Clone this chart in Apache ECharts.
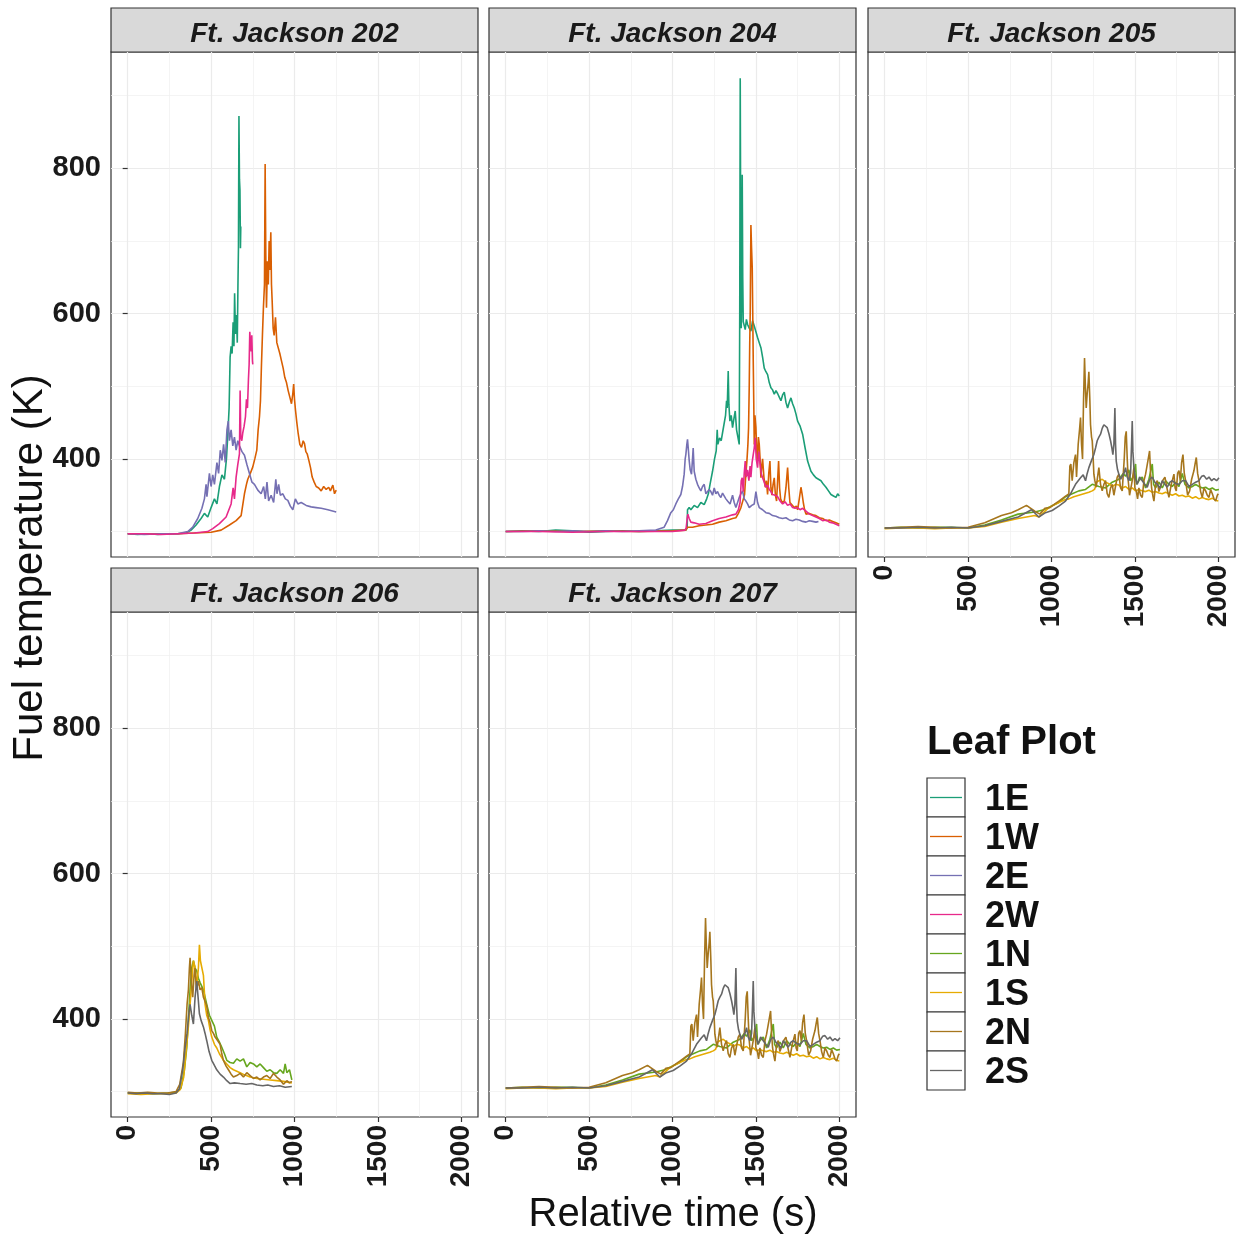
<!DOCTYPE html>
<html>
<head>
<meta charset="utf-8">
<title>Fuel temperature</title>
<script src="https://cdn.jsdelivr.net/npm/echarts@6/dist/echarts.min.js"></script>
<style>
  html, body { margin: 0; padding: 0; background: #fff; }
  #chart { width: 1236px; height: 1237px; }
</style>
</head>
<body>
<div id="chart"></div>
<script>
// leaf plots and their colours (Dark2)
var leafPlots = ['1E', '1W', '2E', '2W', '1N', '1S', '2N', '2S'];
var leafColors = ['#1B9E77', '#D95F02', '#7570B3', '#E7298A', '#66A61E', '#E6AB02', '#A6761D', '#666666'];
var facetNames = ['Ft. Jackson 202', 'Ft. Jackson 204', 'Ft. Jackson 205', 'Ft. Jackson 206', 'Ft. Jackson 207'];
var yTicks = [400, 600, 800];
var xTicks = [0, 500, 1000, 1500, 2000];

// [relative time (s), fuel temperature (K)]
var fj202_1E = [[0,297],[60,296],[120,297],[180,296],[240,297],[300,297],[350,298],[380,302],[410,309],[440,318],[460,325],[480,320],[500,333],[520,345],[535,338],[550,362],[565,378],[580,372],[592,400],[600,432],[608,470],[614,540],[620,555],[626,545],[632,588],[637,555],[641,628],[646,572],[652,598],[657,560],[661,640],[664,690],[667,872],[670,785],[673,770],[676,690],[678,720]];
var fj202_1W = [[0,297],[100,297],[200,297],[300,297],[400,298],[500,299],[560,302],[610,309],[650,315],[680,322],[700,352],[712,365],[720,372],[735,380],[750,389],[762,400],[774,412],[782,440],[790,458],[796,480],[802,530],[808,572],[814,610],[820,640],[824,806],[828,680],[832,608],[838,672],[843,640],[848,700],[852,660],[858,712],[862,640],[866,618],[872,580],[878,570],[886,595],[894,560],[902,558],[912,545],[922,535],[932,525],[942,512],[952,505],[962,494],[972,485],[982,476],[990,490],[995,503],[1000,482],[1006,467],[1014,450],[1022,435],[1032,420],[1042,416],[1052,425],[1060,421],[1068,410],[1076,407],[1086,398],[1096,388],[1106,375],[1118,368],[1130,362],[1145,360],[1160,356],[1175,362],[1190,358],[1205,361],[1215,356],[1230,364],[1240,352],[1250,357]];
var fj202_2E = [[0,297],[100,296],[200,297],[300,297],[360,300],[390,306],[420,318],[445,332],[460,345],[470,365],[475,348],[490,380],[500,362],[510,378],[520,365],[535,395],[545,380],[555,412],[565,398],[575,420],[585,395],[595,440],[603,452],[610,425],[620,440],[630,418],[640,430],[650,412],[660,425],[670,418],[685,410],[700,405],[715,392],[730,380],[745,368],[760,365],[780,357],[800,352],[815,362],[825,345],[835,368],[845,342],[860,350],[875,340],[888,372],[895,352],[905,365],[915,350],[930,352],[945,345],[960,343],[975,335],[990,330],[1005,345],[1020,338],[1040,340],[1070,336],[1100,334],[1130,333],[1160,332],[1200,330],[1250,327]];
var fj202_2W = [[0,297],[100,297],[200,296],[300,297],[400,298],[480,300],[510,304],[550,311],[590,320],[620,338],[632,360],[640,345],[650,375],[660,392],[670,407],[674,494],[678,430],[684,425],[690,436],[698,445],[706,458],[712,482],[718,470],[724,510],[728,530],[732,575],[736,560],[740,548],[744,570],[748,535],[750,530]];

var fj204_1E = [[0,300],[100,301],[200,300],[300,302],[400,301],[500,299],[600,300],[700,301],[800,300],[900,301],[1000,302],[1080,302],[1088,305],[1090,330],[1100,333],[1110,330],[1130,336],[1150,333],[1170,340],[1190,337],[1205,345],[1215,352],[1225,365],[1240,383],[1252,400],[1262,411],[1268,440],[1272,420],[1282,429],[1292,425],[1300,436],[1310,438],[1318,460],[1324,480],[1328,470],[1334,521],[1338,475],[1344,452],[1352,460],[1360,443],[1368,455],[1376,466],[1384,440],[1392,430],[1400,420],[1403,600],[1406,924],[1409,700],[1412,580],[1415,620],[1418,791],[1421,650],[1424,589],[1430,590],[1436,578],[1443,592],[1450,585],[1460,580],[1470,576],[1480,590],[1490,583],[1500,575],[1510,567],[1520,560],[1530,553],[1540,540],[1550,525],[1560,520],[1570,516],[1580,505],[1590,498],[1600,495],[1610,489],[1620,494],[1630,490],[1640,485],[1650,480],[1660,488],[1670,492],[1680,478],[1690,470],[1700,478],[1710,484],[1720,476],[1730,470],[1740,462],[1750,452],[1765,445],[1780,434],[1795,415],[1810,397],[1820,390],[1830,383],[1845,378],[1860,374],[1875,372],[1890,370],[1905,365],[1920,361],[1935,356],[1950,351],[1965,349],[1980,347],[1990,352],[2000,349]];
var fj204_1W = [[0,300],[200,301],[400,300],[600,301],[800,300],[1000,301],[1080,302],[1090,306],[1120,306],[1160,308],[1200,309],[1240,310],[1280,313],[1320,315],[1360,318],[1380,319],[1395,325],[1410,333],[1425,345],[1432,351],[1440,380],[1446,397],[1452,420],[1456,443],[1460,500],[1463,560],[1466,603],[1470,722],[1474,690],[1478,663],[1481,600],[1484,535],[1487,480],[1490,420],[1494,460],[1500,443],[1505,410],[1510,397],[1515,430],[1520,420],[1525,400],[1530,374],[1535,390],[1540,400],[1548,375],[1556,361],[1563,370],[1570,351],[1577,380],[1584,397],[1590,360],[1596,350],[1603,365],[1610,374],[1617,350],[1624,342],[1630,370],[1636,397],[1642,360],[1648,345],[1658,340],[1670,342],[1680,360],[1690,388],[1697,360],[1704,340],[1715,338],[1730,333],[1742,335],[1750,330],[1760,345],[1770,361],[1778,350],[1784,340],[1792,330],[1800,324],[1820,325],[1840,323],[1860,322],[1880,319],[1900,318],[1920,315],[1940,316],[1960,314],[1980,312],[2000,310]];
var fj204_2E = [[0,300],[100,300],[200,301],[300,300],[400,301],[500,300],[600,301],[700,300],[800,301],[900,302],[950,306],[970,315],[990,326],[1005,330],[1020,338],[1035,345],[1050,351],[1060,362],[1070,379],[1076,400],[1080,406],[1086,420],[1090,427],[1096,410],[1100,398],[1106,385],[1114,379],[1120,400],[1124,415],[1130,383],[1140,372],[1150,365],[1160,360],[1170,356],[1180,362],[1190,365],[1200,352],[1210,351],[1220,358],[1230,355],[1240,350],[1250,360],[1260,352],[1270,355],[1280,350],[1290,347],[1300,353],[1310,351],[1320,345],[1330,342],[1345,338],[1360,350],[1370,340],[1380,333],[1390,340],[1400,347],[1410,352],[1420,356],[1430,345],[1440,342],[1450,338],[1460,333],[1475,336],[1490,338],[1500,355],[1510,340],[1520,333],[1540,330],[1560,326],[1580,325],[1600,322],[1620,321],[1640,319],[1660,318],[1680,319],[1700,316],[1720,315],[1740,317],[1760,316],[1780,314],[1800,313],[1820,315],[1840,314],[1860,313],[1875,314]];
var fj204_2W = [[0,300],[200,300],[400,299],[600,300],[800,300],[1000,300],[1075,302],[1082,305],[1088,318],[1092,324],[1100,318],[1110,313],[1130,312],[1160,310],[1200,311],[1240,315],[1280,318],[1320,320],[1360,323],[1380,324],[1395,330],[1405,340],[1412,370],[1418,374],[1424,355],[1430,380],[1436,397],[1442,375],[1450,385],[1458,370],[1465,390],[1470,375],[1477,395],[1484,406],[1490,415],[1496,429],[1502,400],[1510,388],[1517,410],[1524,395],[1532,380],[1540,374],[1550,368],[1560,361],[1570,364],[1580,358],[1590,355],[1600,351],[1615,350],[1630,348],[1645,342],[1660,338],[1675,341],[1690,336],[1705,338],[1720,333],[1735,332],[1750,333],[1765,330],[1780,332],[1800,328],[1820,324],[1840,322],[1860,320],[1880,318],[1900,315],[1920,316],[1940,313],[1960,312],[1980,310],[2000,308]];

// 205 and 207 show the same traces in the picture
var fj205_1N = [[0,305],[100,306],[200,305],[300,306],[400,306],[500,305],[600,309],[700,316],[800,324],[900,327],[954,330],[1044,340],[1084,348],[1124,352],[1164,356],[1204,358],[1244,365],[1284,362],[1324,360],[1364,368],[1404,372],[1430,380],[1444,376],[1464,385],[1474,370],[1490,375],[1504,393],[1510,365],[1524,370],[1544,375],[1564,360],[1584,372],[1604,393],[1612,365],[1624,360],[1644,368],[1664,360],[1684,370],[1704,365],[1724,362],[1744,368],[1764,362],[1784,380],[1800,365],[1824,360],[1844,362],[1864,365],[1884,362],[1904,360],[1924,361],[1944,358],[1964,360],[1984,357],[2004,358]];
var fj205_1S = [[0,304],[100,305],[200,305],[300,304],[400,305],[500,305],[600,307],[700,313],[800,318],[900,322],[924,320],[984,333],[1044,340],[1084,344],[1104,345],[1134,348],[1164,350],[1194,352],[1224,354],[1244,356],[1258,358],[1262,361],[1270,368],[1284,370],[1304,372],[1324,368],[1344,366],[1364,362],[1384,365],[1404,364],[1424,360],[1444,362],[1464,358],[1484,360],[1504,356],[1524,358],[1544,356],[1564,355],[1584,357],[1604,354],[1624,355],[1644,353],[1664,352],[1684,354],[1704,352],[1724,350],[1744,352],[1764,349],[1784,350],[1804,348],[1824,349],[1844,346],[1864,348],[1884,345],[1904,347],[1924,345],[1944,344],[1964,346],[1984,343],[2000,342]];
var fj205_2N = [[0,305],[100,306],[200,307],[300,306],[400,305],[500,306],[600,312],[700,322],[760,326],[800,330],[850,336],[900,328],[930,324],[960,332],[990,333],[1020,338],[1044,342],[1080,348],[1104,352],[1110,390],[1116,393],[1124,370],[1134,395],[1144,406],[1150,375],[1160,420],[1168,440],[1174,457],[1180,420],[1186,400],[1192,480],[1198,539],[1203,500],[1208,470],[1214,490],[1220,505],[1224,520],[1230,480],[1234,447],[1240,430],[1244,425],[1250,400],[1254,379],[1260,370],[1268,361],[1276,375],[1284,388],[1294,365],[1304,356],[1314,365],[1324,370],[1334,352],[1344,347],[1354,360],[1364,365],[1374,350],[1384,352],[1394,375],[1404,379],[1414,360],[1424,356],[1436,400],[1442,430],[1448,438],[1454,400],[1460,370],[1468,350],[1474,352],[1484,370],[1494,388],[1500,360],[1508,356],[1516,345],[1524,360],[1534,350],[1544,347],[1554,370],[1564,379],[1576,395],[1588,411],[1594,380],[1600,360],[1607,350],[1614,342],[1624,365],[1634,370],[1644,355],[1654,356],[1666,370],[1680,375],[1692,360],[1704,347],[1718,365],[1734,379],[1741,360],[1748,356],[1756,380],[1764,384],[1772,370],[1780,395],[1788,406],[1796,380],[1804,370],[1816,350],[1828,356],[1840,372],[1854,384],[1862,395],[1868,402],[1876,380],[1884,370],[1894,355],[1904,347],[1914,360],[1924,356],[1934,350],[1944,347],[1954,358],[1964,352],[1974,345],[1984,342],[1994,350],[2000,352]];
var fj205_2S = [[0,305],[100,305],[200,306],[300,305],[400,306],[500,305],[600,308],[700,314],[800,320],[880,330],[924,320],[964,326],[1004,329],[1044,335],[1084,342],[1114,352],[1144,365],[1174,374],[1190,378],[1204,370],[1214,380],[1224,388],[1240,398],[1254,406],[1264,415],[1274,425],[1284,430],[1294,434],[1304,442],[1314,447],[1324,446],[1334,443],[1344,435],[1354,425],[1362,415],[1368,406],[1374,420],[1380,470],[1384,420],[1388,397],[1396,385],[1404,379],[1414,372],[1424,370],[1434,380],[1444,388],[1454,375],[1464,370],[1474,380],[1480,420],[1484,452],[1488,410],[1494,388],[1504,372],[1514,365],[1528,375],[1544,370],[1559,365],[1574,361],[1589,372],[1604,375],[1619,368],[1634,365],[1650,360],[1664,370],[1680,365],[1694,361],[1710,368],[1724,370],[1744,366],[1764,365],[1784,370],[1804,370],[1824,362],[1844,365],[1864,368],[1884,370],[1900,376],[1914,377],[1930,372],[1944,375],[1960,370],[1974,373],[1990,370],[2004,374]];

var fj206_1N = [[0,298],[80,298],[160,297],[240,298],[290,299],[320,305],[340,330],[354,360],[364,400],[374,440],[384,470],[394,480],[404,470],[414,466],[424,456],[434,450],[444,448],[454,440],[464,430],[474,420],[490,405],[504,398],[520,390],[534,375],[550,368],[564,361],[580,352],[594,343],[614,340],[634,339],[654,345],[674,342],[694,345],[714,334],[734,340],[754,338],[774,334],[794,338],[814,333],[834,328],[854,330],[874,326],[894,325],[914,330],[934,325],[944,338],[954,326],[970,330],[984,316]];
var fj206_1S = [[0,297],[80,296],[160,297],[240,297],[290,298],[316,303],[336,320],[354,365],[364,390],[374,420],[384,450],[394,480],[404,470],[414,445],[424,470],[430,502],[436,480],[444,480],[454,460],[464,420],[474,405],[484,398],[494,385],[504,375],[520,365],[534,360],[550,352],[574,343],[594,338],[614,333],[634,330],[654,328],[674,326],[700,323],[734,320],[774,318],[814,317],[854,316],[894,315],[934,314],[984,312]];
var fj206_2N = [[0,299],[60,298],[120,299],[180,298],[240,298],[290,300],[312,310],[334,340],[346,380],[356,420],[364,440],[370,470],[374,484],[382,450],[390,430],[398,460],[404,470],[412,440],[424,452],[434,440],[444,443],[454,430],[464,432],[474,418],[484,402],[494,395],[504,384],[514,380],[524,375],[540,370],[554,365],[564,352],[574,343],[590,335],[604,330],[620,324],[634,320],[654,322],[674,325],[694,320],[714,326],[734,322],[754,318],[774,320],[794,316],[814,320],[834,322],[854,318],[874,325],[894,320],[914,316],[934,310],[954,315],[970,312],[984,314]];
var fj206_2S = [[0,298],[50,297],[100,298],[150,297],[200,297],[250,296],[290,298],[310,304],[330,330],[344,360],[356,380],[366,405],[374,420],[384,405],[394,393],[404,430],[414,452],[422,430],[430,407],[440,398],[454,389],[464,380],[474,370],[488,355],[504,343],[520,336],[534,330],[554,324],[574,320],[594,315],[614,311],[640,312],[674,311],[710,310],[744,311],[774,309],[810,308],[840,309],[874,307],[910,308],[944,306],[984,307]];

var fj207_1N = fj205_1N, fj207_1S = fj205_1S, fj207_2N = fj205_2N, fj207_2S = fj205_2S;

var panels = [
  { plots: ['1E', '1W', '2E', '2W'], data: [fj202_1E, fj202_1W, fj202_2E, fj202_2W] },
  { plots: ['1E', '1W', '2E', '2W'], data: [fj204_1E, fj204_1W, fj204_2E, fj204_2W] },
  { plots: ['1N', '1S', '2N', '2S'], data: [fj205_1N, fj205_1S, fj205_2N, fj205_2S] },
  { plots: ['1N', '1S', '2N', '2S'], data: [fj206_1N, fj206_1S, fj206_2N, fj206_2S] },
  { plots: ['1N', '1S', '2N', '2S'], data: [fj207_1N, fj207_1S, fj207_2N, fj207_2S] }
];

// layout
var colLeft = [111, 489, 868];
var rowTop = [52, 612];
var panelW = 367, panelH = 505, stripH = 44;
var cellPos = [[0, 0], [1, 0], [2, 0], [0, 1], [1, 1]];
var showX = [false, false, true, true, true];
var showY = [true, false, false, true, false];
var font = '"Liberation Sans", Arial, sans-serif';

var grids = [], xAxes = [], yAxes = [], series = [], graphics = [];

function plain(v) { return String(v); }

panels.forEach(function (p, i) {
  var L = colLeft[cellPos[i][0]], T = rowTop[cellPos[i][1]];
  grids.push({ left: L, top: T, width: panelW, height: panelH, show: true,
               borderColor: '#333', borderWidth: 1.2, backgroundColor: '#fff' });
  xAxes.push({
    type: 'value', gridIndex: i, min: -100, max: 2100, splitNumber: 4,
    axisLine: { show: false },
    axisTick: { show: showX[i], customValues: xTicks, length: 5, lineStyle: { color: '#333', width: 1.2 } },
    axisLabel: { show: showX[i], customValues: xTicks, rotate: 90, margin: 8, formatter: plain,
                 fontSize: 28, fontWeight: 'bold', color: '#1a1a1a', fontFamily: font },
    splitLine: { show: true, lineStyle: { color: '#EBEBEB', width: 1.2 } },
    minorTick: { show: false, splitNumber: 2 },
    minorSplitLine: { show: true, lineStyle: { color: '#EFEFEF', width: 0.7 } }
  });
  yAxes.push({
    type: 'value', gridIndex: i, min: 265, max: 960, splitNumber: 3,
    axisLine: { show: false },
    axisTick: { show: showY[i], customValues: yTicks, length: 5, lineStyle: { color: '#333', width: 1.2 } },
    axisLabel: { show: showY[i], customValues: yTicks, margin: 10, formatter: plain,
                 fontSize: 29, fontWeight: 'bold', color: '#1a1a1a', fontFamily: font },
    splitLine: { show: true, lineStyle: { color: '#EBEBEB', width: 1.2 } },
    minorTick: { show: false, splitNumber: 2 },
    minorSplitLine: { show: true, lineStyle: { color: '#EFEFEF', width: 0.7 } }
  });
  p.plots.forEach(function (name, k) {
    var c = leafColors[leafPlots.indexOf(name)];
    series.push({
      type: 'line', name: name, xAxisIndex: i, yAxisIndex: i,
      data: p.data[k], showSymbol: false, symbol: 'none', silent: true,
      lineStyle: { color: c, width: 1.6 }, itemStyle: { color: c }
    });
  });
  // facet strip
  graphics.push({ type: 'rect', shape: { x: L, y: T - stripH, width: panelW, height: stripH },
                  style: { fill: '#D9D9D9', stroke: '#333', lineWidth: 1.2 } });
  graphics.push({ type: 'text', x: L + panelW / 2, y: T - stripH / 2 + 4,
                  style: { text: facetNames[i], fontSize: 28, fontWeight: 'bold', fontStyle: 'italic',
                           fontFamily: font, fill: '#1a1a1a', align: 'center', verticalAlign: 'middle' } });
});

// axis titles
graphics.push({ type: 'text', x: 30, y: 568, rotation: Math.PI / 2,
                style: { text: 'Fuel temperature (K)', fontSize: 42, fontFamily: font, fill: '#111',
                         align: 'center', verticalAlign: 'middle' } });
graphics.push({ type: 'text', x: 673, y: 1215,
                style: { text: 'Relative time (s)', fontSize: 40, fontFamily: font, fill: '#111',
                         align: 'center', verticalAlign: 'middle' } });

// legend
graphics.push({ type: 'text', x: 927, y: 743,
                style: { text: 'Leaf Plot', fontSize: 40, fontWeight: 'bold', fontFamily: font, fill: '#111',
                         align: 'left', verticalAlign: 'middle' } });
var keyTop = 778, keyH = 39, keyL = 927, keyW = 38;
leafPlots.forEach(function (name, k) {
  var y0 = keyTop + k * keyH;
  graphics.push({ type: 'rect', shape: { x: keyL, y: y0, width: keyW, height: keyH },
                  style: { fill: '#fff', stroke: '#333', lineWidth: 1.2 } });
  graphics.push({ type: 'line', shape: { x1: keyL + 3, y1: y0 + keyH / 2, x2: keyL + keyW - 3, y2: y0 + keyH / 2 },
                  style: { stroke: leafColors[k], lineWidth: 1.3 } });
  graphics.push({ type: 'text', x: 985, y: y0 + keyH / 2 + 3,
                  style: { text: name, fontSize: 36, fontWeight: 'bold', fontFamily: font, fill: '#111',
                           align: 'left', verticalAlign: 'middle' } });
});

var chart = echarts.init(document.getElementById('chart'), null, { renderer: 'canvas' });
chart.setOption({
  animation: false,
  backgroundColor: '#fff',
  grid: grids,
  xAxis: xAxes,
  yAxis: yAxes,
  series: series,
  graphic: graphics
});
</script>
</body>
</html>
